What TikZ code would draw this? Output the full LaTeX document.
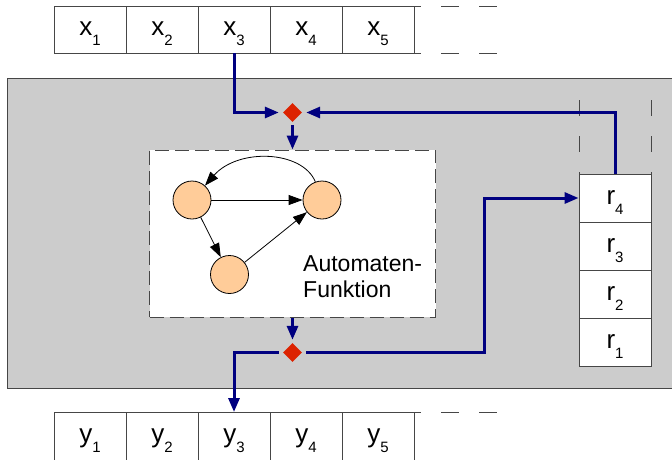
\documentclass[tikz,border=0pt]{standalone}
\usepackage{fontspec}
\setmainfont{Liberation Sans}
\usetikzlibrary{arrows.meta,shapes.geometric}
\definecolor{flowblue}{RGB}{0,0,128}
\definecolor{dred}{RGB}{220,34,0}
\definecolor{boxgray}{RGB}{204,204,204}
\definecolor{edgegray}{RGB}{70,70,70}
\definecolor{statefill}{RGB}{255,204,153}
\newcommand{\lbl}[2]{{\fontsize{26}{26}\selectfont #1\raisebox{-10pt}{\fontsize{15}{15}\selectfont #2}}}
\tikzset{
  cell/.style={draw=edgegray, line width=0.9pt, fill=white, minimum width=72pt, minimum height=47pt,
    inner sep=0pt, text height=14pt, text depth=1.5pt},
  ycell/.style={cell, minimum height=52pt, anchor=north, text height=11pt, text depth=3pt},
  rcell/.style={cell, minimum height=48pt},
  flow/.style={draw=flowblue, line width=3pt, -{Triangle[length=14pt,width=11pt]}},
  flowline/.style={draw=flowblue, line width=3pt},
  junction/.style={diamond, fill=dred, minimum size=19pt, inner sep=0pt},
  state/.style={circle, draw=black, line width=0.8pt, fill=statefill, minimum size=38pt, inner sep=0pt},
  edge/.style={draw=black, line width=0.8pt, -{Triangle[length=14pt,width=10pt]}},
  tapedash/.style={draw=edgegray, line width=0.9pt, dash pattern=on 18pt off 20pt},
}
\begin{document}
\begin{tikzpicture}[x=1pt,y=-1pt]
\useasboundingbox (0,0) rectangle (672,459);
\clip (0,0) rectangle (672,459);
\fill[white] (0,0) rectangle (672,459);
% gray machine box
\draw[fill=boxgray, draw=edgegray, line width=1pt] (7,78) rectangle (700,388);
% input tape
\draw[tapedash] (365,6) -- (498,6);
\draw[tapedash] (365,53) -- (498,53);
\node[cell] (x1) at (90,29.5) {\lbl{x}{1}};
\node[cell] (x2) at (162,29.5) {\lbl{x}{2}};
\node[cell] (x3) at (234,29.5) {\lbl{x}{3}};
\node[cell] (x4) at (306,29.5) {\lbl{x}{4}};
\node[cell] (x5) at (378,29.5) {\lbl{x}{5}};
% output tape
\draw[tapedash] (365,412) -- (498,412);
\node[ycell] (y1) at (90,412) {\lbl{y}{1}};
\node[ycell] (y2) at (162,412) {\lbl{y}{2}};
\node[ycell] (y3) at (234,412) {\lbl{y}{3}};
\node[ycell] (y4) at (306,412) {\lbl{y}{4}};
\node[ycell] (y5) at (378,412) {\lbl{y}{5}};
% register stack
\draw[draw=edgegray, line width=0.9pt, dash pattern=on 16pt off 20pt] (579,100) -- (579,174);
\draw[draw=edgegray, line width=0.9pt, dash pattern=on 16pt off 20pt] (651,100) -- (651,174);
\node[rcell] (r4) at (615,198) {\lbl{r}{4}};
\node[rcell] (r3) at (615,246) {\lbl{r}{3}};
\node[rcell] (r2) at (615,294) {\lbl{r}{2}};
\node[rcell] (r1) at (615,342) {\lbl{r}{1}};
% automaton box
\node[draw=edgegray, line width=1pt, dash pattern=on 14pt off 6pt, fill=white,
      minimum width=286pt, minimum height=167pt, inner sep=0pt] (auto) at (292.5,233.5) {};
\node[state] (A) at (192,200) {};
\node[state] (B) at (322,200) {};
\node[state] (C) at (229.5,274.5) {};
\draw[edge] (A) -- (B);
\draw[edge] (A) -- (C);
\draw[edge] (C) -- (B);
\draw[edge] (B.110) .. controls (302,150) and (238,148) .. (A.48);
\node[anchor=north west, align=left, inner sep=0pt, font=\fontsize{23}{26}\selectfont] (lab) at (303,255.5) {Automaten-\\Funktion};
% junctions
\node[junction] (dA) at (292.5,112.5) {};
\node[junction] (dB) at (292.5,352.5) {};
\coordinate (turn) at (484,198);
% flows
\draw[flow] (x3.south) |- ([xshift=-4pt]dA.west);
\draw[flow] (r4.north) |- ([xshift=4pt]dA.east);
\draw[flow] ([yshift=-3pt]dA.south) -- (auto.north);
\draw[flow] (auto.south) -- ([yshift=3pt]dB.north);
\draw[flow] ([xshift=-4pt]dB.west) -| (y3.north);
\draw[flow] ([xshift=4pt]dB.east) -| (turn) -- (r4.west);
\end{tikzpicture}
\end{document}
